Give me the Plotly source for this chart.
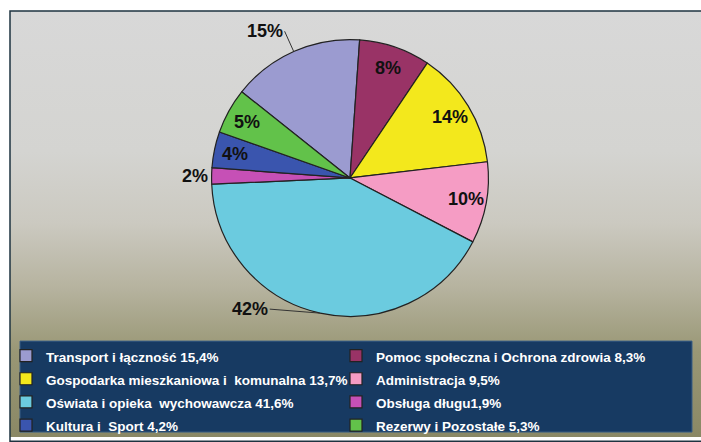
import math, base64
import plotly.graph_objects as go

W, H = 701, 442

labels = ["Transport i łączność 15,4%", "Pomoc społeczna i Ochrona zdrowia 8,3%",
          "Gospodarka mieszkaniowa i  komunalna 13,7%", "Administracja 9,5%",
          "Oświata i opieka  wychowawcza 41,6%", "Obsługa długu1,9%",
          "Kultura i  Sport 4,2%", "Rezerwy i Pozostałe 5,3%"]
values = [15.4, 8.3, 13.7, 9.5, 41.6, 1.9, 4.2, 5.3]
colors = ["#9b9bd0", "#993366", "#f3e81c", "#f59cc4", "#6bcbdf", "#c650b6", "#3a55ae", "#62c24a"]
outside = [True, False, False, False, True, True, False, False]

# pie geometry (pixels)
px0, px1, py0, py1 = 210, 490, 40, 320
cx, cy, R = (px0 + px1) / 2, (py0 + py1) / 2, (px1 - px0) / 2
total = sum(values)
start_offset = 4.0
rotation = start_offset - values[0] / total * 360

# background gradient
svg = f'''<svg xmlns="http://www.w3.org/2000/svg" width="{W}" height="{H}" viewBox="0 0 {W} {H}" preserveAspectRatio="none">
<defs><linearGradient id="g" x1="0" y1="0" x2="0" y2="1">
<stop offset="0" stop-color="#d8d8d8"/>
<stop offset="0.33" stop-color="#d4d4d1"/>
<stop offset="0.5" stop-color="#cbc9c0"/>
<stop offset="0.65" stop-color="#b6b39f"/>
<stop offset="0.8" stop-color="#999775"/>
<stop offset="1" stop-color="#8a8865"/>
</linearGradient></defs>
<rect x="0" y="0" width="{W}" height="{H}" fill="url(#g)"/></svg>'''
src = "data:image/svg+xml;base64," + base64.b64encode(svg.encode()).decode()

legend_labels = [f"<span style='font-size:13.5px'>{l}</span>" for l in labels]

fig = go.Figure(go.Pie(
    labels=legend_labels, values=values, sort=False, direction="clockwise",
    rotation=rotation, textinfo="none",
    marker=dict(colors=colors, line=dict(color="#222222", width=1.2)),
    domain=dict(x=[px0 / W, px1 / W], y=[1 - py1 / H, 1 - py0 / H]),
    showlegend=True,
))

lab_font = dict(family="Liberation Sans, Arial, sans-serif", size=18, color="#111111")
annotations = []
cum = rotation
offsets = {0: (-9, -20), 4: (-50, -4), 5: (-15, -8)}
for i, v in enumerate(values):
    ang = cum + v / total * 360 / 2
    cum += v / total * 360
    a = math.radians(ang)
    txt = f"{round(v / total * 100):d}%"
    if not outside[i]:
        rr = 0.84 * R
        x, y = cx + rr * math.sin(a), cy - rr * math.cos(a)
        annotations.append(dict(x=x / W, y=1 - y / H, xref="paper", yref="paper", text=f"<b>{txt}</b>",
                                showarrow=False, font=lab_font, xanchor="center", yanchor="middle"))
    else:
        ex, ey = cx + R * math.sin(a), cy - R * math.cos(a)
        ax, ay = offsets[i]
        annotations.append(dict(x=ex / W, y=1 - ey / H, xref="paper", yref="paper", text=f"<b>{txt}</b>",
                                showarrow=(i != 5), arrowhead=0, arrowwidth=1, arrowcolor="#333333",
                                ax=ax, ay=ay, standoff=0, font=lab_font, xanchor="right",
                                yanchor="middle"))

shapes = [
    dict(type="rect", xref="paper", yref="paper", x0=10 / W, x1=1.01, y0=-0.01, y1=1 - 11 / H,
         line=dict(color="#1e3340", width=1.5), fillcolor="rgba(0,0,0,0)", layer="above"),
    dict(type="rect", xref="paper", yref="paper", x0=20 / W, x1=692 / W, y0=1 - 437 / H, y1=1 - 345 / H,
         line=dict(color="#3a5f86", width=1), fillcolor="#173a62", layer="below"),
]

fig.update_layout(
    width=W, height=H, margin=dict(l=0, r=0, t=0, b=0),
    paper_bgcolor="white", plot_bgcolor="white",
    images=[dict(source=src, xref="paper", yref="paper", x=10 / W, y=1 - 11 / H,
                 sizex=1 - 10 / W, sizey=1 - 11 / H, sizing="stretch", layer="below",
                 xanchor="left", yanchor="top")],
    shapes=shapes, annotations=annotations,
    legend=dict(orientation="h", x=6 / W, y=1 - 343 / H, xanchor="left", yanchor="top",
                bgcolor="rgba(0,0,0,0)", borderwidth=0, entrywidth=285, entrywidthmode="pixels",
                traceorder="normal", itemclick=False,
                font=dict(family="Liberation Sans, Arial, sans-serif", weight="bold",
                          size=15.5, color="white")),
)
fig.write_html("out.html", config={"displayModeBar": False},
               post_script="document.body.style.margin='0';document.body.style.overflow='hidden';")
